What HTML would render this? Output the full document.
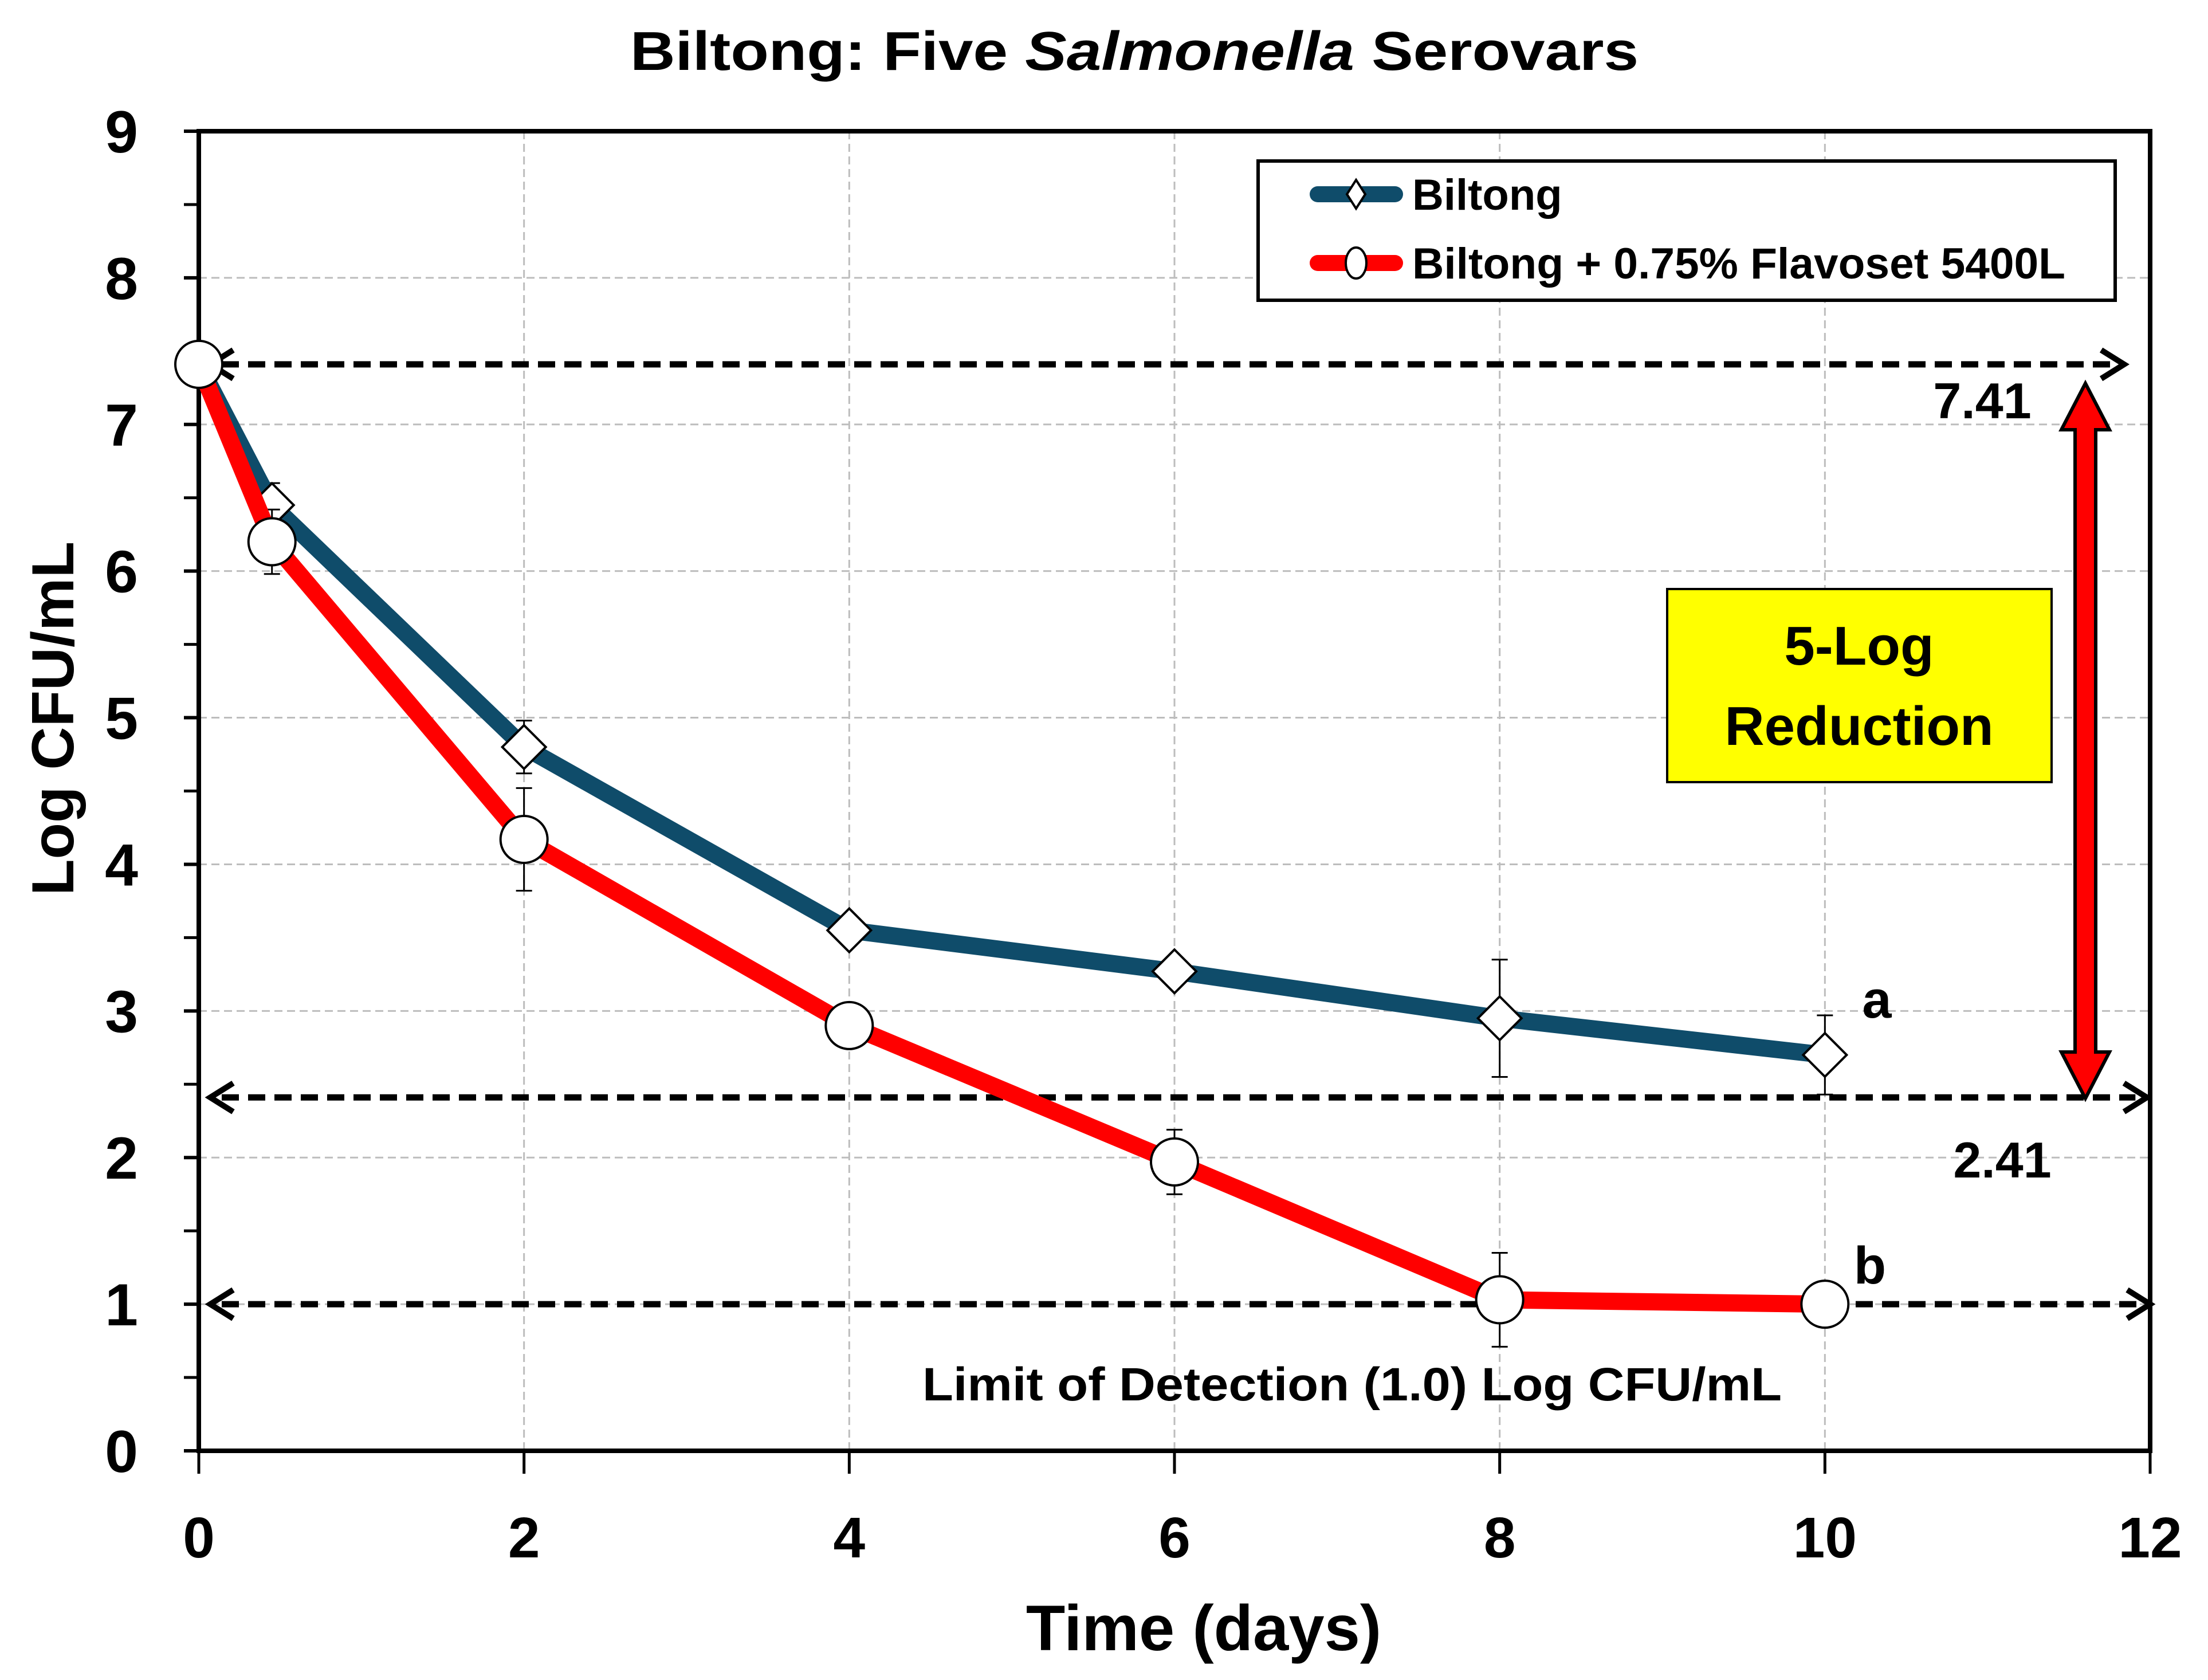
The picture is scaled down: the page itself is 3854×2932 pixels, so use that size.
<!DOCTYPE html>
<html><head><meta charset="utf-8"><style>
html,body{margin:0;padding:0;background:#fff}
svg{display:block}
text{font-family:"Liberation Sans",sans-serif;font-weight:bold;fill:#000}
</style></head><body>
<svg id="chart" width="3854" height="2932" viewBox="0 0 3854 2932" xmlns="http://www.w3.org/2000/svg">
<text x="1980" y="122" font-size="96" text-anchor="middle" textLength="1760" lengthAdjust="spacingAndGlyphs">Biltong: Five <tspan font-style="italic">Salmonella</tspan> Serovars</text>
<g id="grid"></g>
<g id="axes"></g>
<g id="refs"></g>
<g id="series"></g>
<text x="2101" y="2880" font-size="112" text-anchor="middle">Time (days)</text>
<text transform="translate(128,1254) rotate(-90)" font-size="104" text-anchor="middle">Log CFU/mL</text>
<g>
<rect x="2196" y="281" width="1496" height="243" fill="#fff" stroke="#000" stroke-width="6"/>
<g>
<line x1="2300" y1="339" x2="2435" y2="339" stroke="#0f4c6a" stroke-width="28" stroke-linecap="round"/>
<polygon points="2367,314 2383,339 2367,364 2351,339" fill="#fff" stroke="#000" stroke-width="4"/>
<text x="2465" y="366" font-size="76">Biltong</text></g>
<g>
<line x1="2300" y1="459" x2="2435" y2="459" stroke="#f00" stroke-width="28" stroke-linecap="round"/>
<ellipse cx="2367" cy="459" rx="18" ry="27" fill="#fff" stroke="#000" stroke-width="4"/>
<text x="2465" y="486" font-size="76" textLength="1140" lengthAdjust="spacingAndGlyphs">Biltong + 0.75% Flavoset 5400L</text></g>
</g>
<g>
<rect x="2910" y="1028" width="671" height="337" fill="#ffff00" stroke="#000" stroke-width="4"/>
<text x="3245" y="1160" font-size="96" text-anchor="middle">5-Log</text>
<text x="3245" y="1300" font-size="96" text-anchor="middle">Reduction</text>
</g>
<polygon points="3640,669 3682,750 3658,750 3658,1836 3682,1836 3640,1917 3598,1836 3622,1836 3622,750 3598,750" fill="#f00" stroke="#000" stroke-width="6"/>
<text x="3460" y="730" font-size="88" text-anchor="middle">7.41</text>
<text x="3495" y="2055" font-size="88" text-anchor="middle">2.41</text>
<text x="3276" y="1776" font-size="92" text-anchor="middle">a</text>
<text x="3264" y="2240" font-size="92" text-anchor="middle">b</text>
<text x="2360" y="2444" font-size="82" text-anchor="middle" textLength="1500" lengthAdjust="spacingAndGlyphs">Limit of Detection (1.0) Log CFU/mL</text>
</svg>
<script>
const xTicks = [0, 2, 4, 6, 8, 10, 12];
const yTicks = [0, 1, 2, 3, 4, 5, 6, 7, 8, 9];
const days = [0, 0.45, 2, 4, 6, 8, 10];
const biltong = [7.41, 6.45, 4.8, 3.55, 3.27, 2.95, 2.7];
const biltongErr = [0, 0.15, 0.18, 0.05, 0.06, 0.4, 0.27];
const flavoset = [7.41, 6.2, 4.17, 2.9, 1.97, 1.03, 1.0];
const flavosetErr = [0, 0.22, 0.35, 0.05, 0.22, 0.32, 0.05];
const refLevels = [7.41, 2.41, 1.0];
const refEnds = [11.84, 11.98, 12.0];

const NS = 'http://www.w3.org/2000/svg';
const X0 = 347, X1 = 3753, Y0 = 2532, Y1 = 229;
const sx = v => X0 + (v - 0) / 12 * (X1 - X0);
const sy = v => Y0 - (v - 0) / 9 * (Y0 - Y1);
function mk(tag, attrs, parent) {
  const el = document.createElementNS(NS, tag);
  for (const k in attrs) el.setAttribute(k, attrs[k]);
  parent.appendChild(el);
  return el;
}
const grid = document.getElementById('grid');
const axes = document.getElementById('axes');
const refs = document.getElementById('refs');
const series = document.getElementById('series');

yTicks.forEach(v => {
  if (v > 0 && v < 9) {
    const g = mk('line', {x1: X0, x2: X1, y1: sy(v), y2: sy(v), stroke: '#bdbdbd', 'stroke-width': 3, 'stroke-dasharray': '14 8'}, grid);
    
    
  }
  const t = mk('line', {x1: X0 - 26, x2: X0, y1: sy(v), y2: sy(v), stroke: '#000', 'stroke-width': 6}, axes);
  
  
  if (v < 9) {
    const m = mk('line', {x1: X0 - 26, x2: X0, y1: sy(v + 0.5), y2: sy(v + 0.5), stroke: '#000', 'stroke-width': 5}, axes);
    
    
  }
  const l = mk('text', {x: 212, y: sy(v) + 37, 'font-size': 104, 'text-anchor': 'middle'}, axes);
  
  
  l.textContent = v;
});
xTicks.forEach(v => {
  if (v > 0 && v < 12) {
    const g = mk('line', {x1: sx(v), x2: sx(v), y1: Y1, y2: Y0, stroke: '#bdbdbd', 'stroke-width': 3, 'stroke-dasharray': '14 8'}, grid);
    
    
  }
  const t = mk('line', {x1: sx(v), x2: sx(v), y1: Y0, y2: Y0 + 40, stroke: '#000', 'stroke-width': 5}, axes);
  
  
  const l = mk('text', {x: sx(v), y: 2718, 'font-size': 100, 'text-anchor': 'middle'}, axes);
  
  
  l.textContent = v;
});
const frame = mk('rect', {x: X0, y: Y1, width: X1 - X0, height: Y0 - Y1, fill: 'none', stroke: '#000', 'stroke-width': 8}, axes);



refLevels.forEach((v, i) => {
  const y = sy(v), xa = X0 + 20, xb = sx(refEnds[i]);
  const g = mk('g', {}, refs);
  
  
  mk('line', {x1: xa + 20, x2: xb - 20, y1: y, y2: y, stroke: '#000', 'stroke-width': 11, 'stroke-dasharray': '30 16'}, g);
  mk('polyline', {points: `${xa + 40},${y - 25} ${xa},${y} ${xa + 40},${y + 25}`, fill: 'none', stroke: '#000', 'stroke-width': 10}, g);
  mk('polyline', {points: `${xb - 40},${y - 25} ${xb},${y} ${xb - 40},${y + 25}`, fill: 'none', stroke: '#000', 'stroke-width': 10}, g);
});

function drawSeries(vals, errs, color, marker, name) {
  const g = mk('g', {}, series);
  
  
  vals.forEach((v, i) => {
    if (errs[i] > 0) {
      const e = mk('path', {d: `M${sx(days[i])},${sy(v - errs[i])}V${sy(v + errs[i])}M${sx(days[i]) - 14},${sy(v - errs[i])}h28M${sx(days[i]) - 14},${sy(v + errs[i])}h28`, stroke: '#000', 'stroke-width': 3, fill: 'none'}, g);
      
      
    }
  });
  const pts = vals.map((v, i) => sx(days[i]) + ',' + sy(v)).join(' ');
  const ln = mk('polyline', {points: pts, fill: 'none', stroke: color, 'stroke-width': 30, 'stroke-linejoin': 'round'}, g);
  
  
  vals.forEach((v, i) => {
    const cx = sx(days[i]), cy = sy(v);
    let m;
    if (marker === 'diamond') {
      m = mk('polygon', {points: `${cx},${cy - 38} ${cx + 38},${cy} ${cx},${cy + 38} ${cx - 38},${cy}`, fill: '#fff', stroke: '#000', 'stroke-width': 4}, g);
    } else {
      m = mk('circle', {cx: cx, cy: cy, r: 41, fill: '#fff', stroke: '#000', 'stroke-width': 4}, g);
    }
    
    
  });
}
drawSeries(biltong, biltongErr, '#0f4c6a', 'diamond', 'biltong');
drawSeries(flavoset, flavosetErr, '#ff0000', 'circle', 'flavoset');
</script>
</body></html>
